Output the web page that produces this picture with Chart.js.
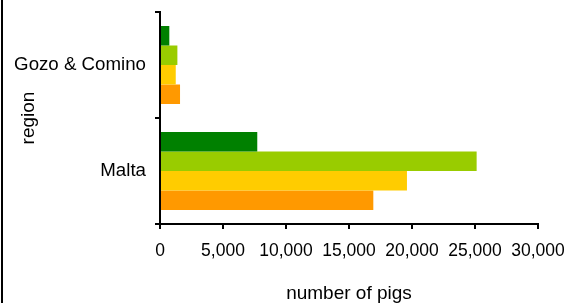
<!DOCTYPE html>
<html>
<head>
<meta charset="utf-8">
<script src="https://cdn.jsdelivr.net/npm/chart.js@4/dist/chart.umd.min.js"></script>
<style>
  html, body { margin: 0; padding: 0; background: #fff; }
  #wrap { position: relative; width: 568px; height: 303px; }
  #edge { position: absolute; left: 1px; top: 0; width: 2px; height: 303px; background: #000; }
</style>
</head>
<body>
<div id="wrap">
  <canvas id="c" width="568" height="303"></canvas>
  <div id="edge"></div>
</div>
<script>
const categories = ["Gozo & Comino", "Malta"];
const seriesNames = ["Series 1", "Series 2", "Series 3", "Series 4"];
const series1 = [740, 7720];
const series2 = [1380, 25130];
const series3 = [1250, 19600];
const series4 = [1590, 16930];
const seriesColors = ["#008000", "#99cc00", "#ffcc00", "#ff9900"];
const xTicks = [0, 5000, 10000, 15000, 20000, 25000, 30000];
const xTitle = "number of pigs";
const yTitle = "region";

const values = [series1, series2, series3, series4];
const FONT = "'Liberation Sans', Arial, sans-serif";

function zeroPad(s) {
  s.paddingTop = 0; s.paddingBottom = 0; s.paddingLeft = 0; s.paddingRight = 0;
}

new Chart(document.getElementById("c"), {
  type: "bar",
  data: {
    labels: categories,
    datasets: values.map((v, i) => ({
      label: seriesNames[i],
      data: v,
      backgroundColor: seriesColors[i],
      borderWidth: 0,
      categoryPercentage: 0.736,
      barPercentage: 1.0
    }))
  },
  options: {
    indexAxis: "y",
    responsive: false,
    animation: false,
    devicePixelRatio: 1,
    layout: { padding: { left: 0, right: 30, top: 12, bottom: 0 } },
    plugins: { legend: { display: false }, tooltip: { enabled: false } },
    scales: {
      x: {
        min: xTicks[0],
        max: xTicks[xTicks.length - 1],
        afterBuildTicks: s => { s.ticks = xTicks.map(v => ({ value: v })); },
        afterFit: s => { s.height = 79; zeroPad(s); },
        ticks: {
          color: "#000",
          font: { family: FONT, size: 17.5 },
          padding: 12,
          maxRotation: 0,
          callback: v => v.toLocaleString("en-US")
        },
        grid: { drawOnChartArea: false, drawTicks: true, tickLength: 5, color: "#000", lineWidth: 2 },
        border: { display: true, color: "#000", width: 2 },
        title: { display: true, text: xTitle, color: "#000", font: { family: FONT, size: 19, lineHeight: 1.0 }, padding: { top: 0, bottom: 0 } }
      },
      y: {
        afterFit: s => { s.width = 160; zeroPad(s); },
        ticks: { color: "#000", font: { family: FONT, size: 18.7 }, padding: 9 },
        grid: { drawOnChartArea: false, drawTicks: true, tickLength: 5, color: "#000", lineWidth: 2, offset: true },
        border: { display: true, color: "#000", width: 2 },
        title: { display: true, text: yTitle, color: "#000", font: { family: FONT, size: 19 }, padding: { top: 17, bottom: 0 } }
      }
    }
  }
});
</script>
</body>
</html>
